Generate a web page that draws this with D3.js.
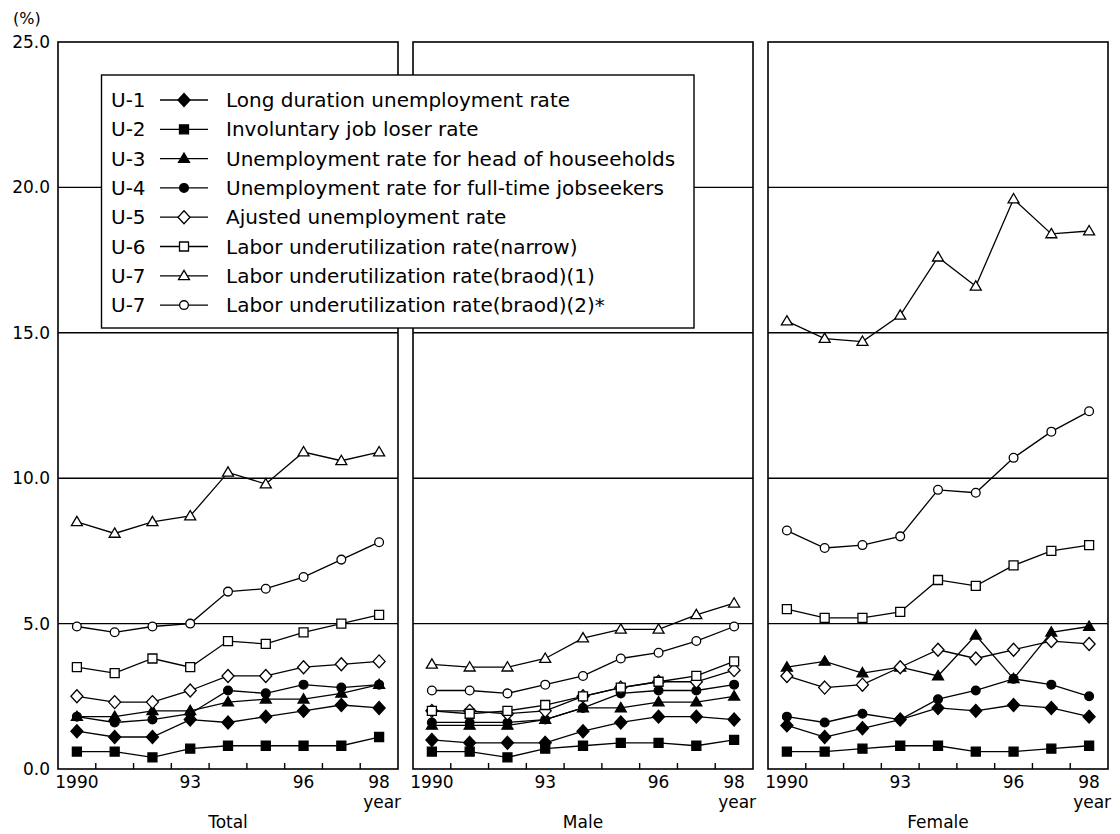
<!DOCTYPE html>
<html>
<head>
<meta charset="utf-8">
<script src="https://cdn.jsdelivr.net/npm/d3@7"></script>
<style>
  body { margin: 0; background: #fff; }
  svg text { font-family: "DejaVu Sans", sans-serif; fill: #000; }
</style>
</head>
<body>
<div id="chart"></div>
<script>
// years on the x axis
const years = [1990, 1991, 1992, 1993, 1994, 1995, 1996, 1997, 1998]
const yearLabels = { 1990: '1990', 1993: '93', 1996: '96', 1998: '98' }
const panels = ['Total', 'Male', 'Female']
const yTicks = [0, 5, 10, 15, 20, 25]

// series codes and names (legend order)
const codes = ['U-1', 'U-2', 'U-3', 'U-4', 'U-5', 'U-6', 'U-7', 'U-7']
const names = [
  'Long duration unemployment rate',
  'Involuntary job loser rate',
  'Unemployment rate for head of houseeholds',
  'Unemployment rate for full-time jobseekers',
  'Ajusted unemployment rate',
  'Labor underutilization rate(narrow)',
  'Labor underutilization rate(braod)(1)',
  'Labor underutilization rate(braod)(2)*'
]
const shapes = ['diamond', 'square', 'triangle', 'circle', 'diamond', 'square', 'triangle', 'circle']
const filled = [true, true, true, true, false, false, false, false]

// Total
const totalU1 = [1.3, 1.1, 1.1, 1.7, 1.6, 1.8, 2.0, 2.2, 2.1]
const totalU2 = [0.6, 0.6, 0.4, 0.7, 0.8, 0.8, 0.8, 0.8, 1.1]
const totalU3 = [1.8, 1.8, 2.0, 2.0, 2.3, 2.4, 2.4, 2.6, 2.9]
const totalU4 = [1.8, 1.6, 1.7, 1.9, 2.7, 2.6, 2.9, 2.8, 2.9]
const totalU5 = [2.5, 2.3, 2.3, 2.7, 3.2, 3.2, 3.5, 3.6, 3.7]
const totalU6 = [3.5, 3.3, 3.8, 3.5, 4.4, 4.3, 4.7, 5.0, 5.3]
const totalU7a = [8.5, 8.1, 8.5, 8.7, 10.2, 9.8, 10.9, 10.6, 10.9]
const totalU7b = [4.9, 4.7, 4.9, 5.0, 6.1, 6.2, 6.6, 7.2, 7.8]

// Male
const maleU1 = [1.0, 0.9, 0.9, 0.9, 1.3, 1.6, 1.8, 1.8, 1.7]
const maleU2 = [0.6, 0.6, 0.4, 0.7, 0.8, 0.9, 0.9, 0.8, 1.0]
const maleU3 = [1.5, 1.5, 1.5, 1.7, 2.1, 2.1, 2.3, 2.3, 2.5]
const maleU4 = [1.6, 1.6, 1.6, 1.7, 2.1, 2.6, 2.7, 2.7, 2.9]
const maleU5 = [2.0, 2.0, 1.9, 2.0, 2.5, 2.8, 3.0, 3.0, 3.4]
const maleU6 = [2.0, 1.9, 2.0, 2.2, 2.5, 2.8, 3.0, 3.2, 3.7]
const maleU7a = [3.6, 3.5, 3.5, 3.8, 4.5, 4.8, 4.8, 5.3, 5.7]
const maleU7b = [2.7, 2.7, 2.6, 2.9, 3.2, 3.8, 4.0, 4.4, 4.9]

// Female
const femaleU1 = [1.5, 1.1, 1.4, 1.7, 2.1, 2.0, 2.2, 2.1, 1.8]
const femaleU2 = [0.6, 0.6, 0.7, 0.8, 0.8, 0.6, 0.6, 0.7, 0.8]
const femaleU3 = [3.5, 3.7, 3.3, 3.5, 3.2, 4.6, 3.1, 4.7, 4.9]
const femaleU4 = [1.8, 1.6, 1.9, 1.7, 2.4, 2.7, 3.1, 2.9, 2.5]
const femaleU5 = [3.2, 2.8, 2.9, 3.5, 4.1, 3.8, 4.1, 4.4, 4.3]
const femaleU6 = [5.5, 5.2, 5.2, 5.4, 6.5, 6.3, 7.0, 7.5, 7.7]
const femaleU7a = [15.4, 14.8, 14.7, 15.6, 17.6, 16.6, 19.6, 18.4, 18.5]
const femaleU7b = [8.2, 7.6, 7.7, 8.0, 9.6, 9.5, 10.7, 11.6, 12.3]

const panelSeries = [
  [totalU1, totalU2, totalU3, totalU4, totalU5, totalU6, totalU7a, totalU7b],
  [maleU1, maleU2, maleU3, maleU4, maleU5, maleU6, maleU7a, maleU7b],
  [femaleU1, femaleU2, femaleU3, femaleU4, femaleU5, femaleU6, femaleU7a, femaleU7b]
]

// layout
const width = 1120
const height = 834
const panelLeft = [58, 413, 768]
const panelWidth = 340
const plotTop = 42
const plotBottom = 769

const svg = d3.select('#chart').append('svg')
  .attr('width', width)
  .attr('height', height)

const y = d3.scaleLinear().domain([0, 25]).range([plotBottom, plotTop])

// marker paths, centred on 0,0
function markerPath(shape) {
  if (shape === 'diamond') return 'M0,-6.5L6,0L0,6.5L-6,0Z'
  if (shape === 'square') return 'M-4.5,-4.5H4.5V4.5H-4.5Z'
  if (shape === 'triangle') return 'M0,-5.5L5.5,3.8L-5.5,3.8Z'
  return d3.symbol().type(d3.symbolCircle).size(60)()
}

panels.forEach((name, p) => {
  const x = d3.scaleBand().domain(years).range([panelLeft[p], panelLeft[p] + panelWidth])
  const cx = d => x(d) + x.bandwidth() / 2
  const g = svg.append('g').attr('class', 'panel')

  // gridlines
  g.selectAll('line.grid')
    .data(yTicks.slice(1, -1))
    .enter().append('line')
    .attr('x1', panelLeft[p]).attr('x2', panelLeft[p] + panelWidth)
    .attr('y1', d => y(d)).attr('y2', d => y(d))
    .attr('stroke', '#000').attr('stroke-width', 1.4)

  // frame
  g.append('rect')
    .attr('x', panelLeft[p]).attr('y', plotTop)
    .attr('width', panelWidth).attr('height', plotBottom - plotTop)
    .attr('fill', 'none').attr('stroke', '#000').attr('stroke-width', 1.6)

  // ticks between years
  g.selectAll('line.tick')
    .data(years.slice(1))
    .enter().append('line')
    .attr('x1', d => x(d)).attr('x2', d => x(d))
    .attr('y1', plotBottom).attr('y2', plotBottom - 6)
    .attr('stroke', '#000').attr('stroke-width', 1.4)

  // year labels
  g.selectAll('text.year')
    .data(years.filter(d => yearLabels[d]))
    .enter().append('text')
    .attr('x', d => cx(d)).attr('y', 788)
    .attr('text-anchor', 'middle')
    .attr('font-size', 17)
    .text(d => yearLabels[d])

  g.append('text')
    .attr('x', cx(1998) + 3).attr('y', 808)
    .attr('text-anchor', 'middle')
    .attr('font-size', 17)
    .text('year')

  g.append('text')
    .attr('x', panelLeft[p] + panelWidth / 2).attr('y', 828)
    .attr('text-anchor', 'middle')
    .attr('font-size', 17)
    .text(name)

  // series
  const line = d3.line().x((d, i) => cx(years[i])).y(d => y(d))
  panelSeries[p].forEach((vals, s) => {
    g.append('path')
      .attr('d', line(vals))
      .attr('fill', 'none').attr('stroke', '#000').attr('stroke-width', 1.3)
  })
  panelSeries[p].forEach((vals, s) => {
    g.selectAll(null)
      .data(vals)
      .enter().append('path')
      .attr('transform', (d, i) => `translate(${cx(years[i])},${y(d)})`)
      .attr('d', markerPath(shapes[s]))
      .attr('fill', filled[s] ? '#000' : '#fff')
      .attr('stroke', '#000').attr('stroke-width', 1.3)
  })
})

// y axis labels
const yAxis = d3.axisLeft(y).tickValues(yTicks).tickSize(0).tickPadding(8).tickFormat(d3.format('.1f'))
const ya = svg.append('g').attr('transform', `translate(${panelLeft[0]},0)`).call(yAxis)
ya.select('.domain').remove()
ya.selectAll('text').attr('font-size', 17).attr('font-family', '"DejaVu Sans", sans-serif').attr('fill', '#000')

svg.append('text').attr('x', 13).attr('y', 24).attr('font-size', 16).text('(%)')

// legend
const legend = svg.append('g').attr('class', 'legend')
legend.append('rect')
  .attr('x', 101.5).attr('y', 75)
  .attr('width', 592.5).attr('height', 253)
  .attr('fill', '#fff').attr('stroke', '#000').attr('stroke-width', 1.4)

const rows = legend.selectAll('g.row')
  .data(codes)
  .enter().append('g')
  .attr('transform', (d, i) => `translate(0,${100 + i * 29.3})`)

rows.append('text').attr('x', 111).attr('y', 7).attr('font-size', 20).text(d => d)
rows.append('line').attr('x1', 160).attr('x2', 208).attr('y1', 0).attr('y2', 0)
  .attr('stroke', '#000').attr('stroke-width', 1.3)
rows.append('path')
  .attr('transform', 'translate(184,0)')
  .attr('d', (d, i) => markerPath(shapes[i]))
  .attr('fill', (d, i) => filled[i] ? '#000' : '#fff')
  .attr('stroke', '#000').attr('stroke-width', 1.3)
rows.append('text').attr('x', 226).attr('y', 7).attr('font-size', 20).text((d, i) => names[i])
</script>
</body>
</html>
